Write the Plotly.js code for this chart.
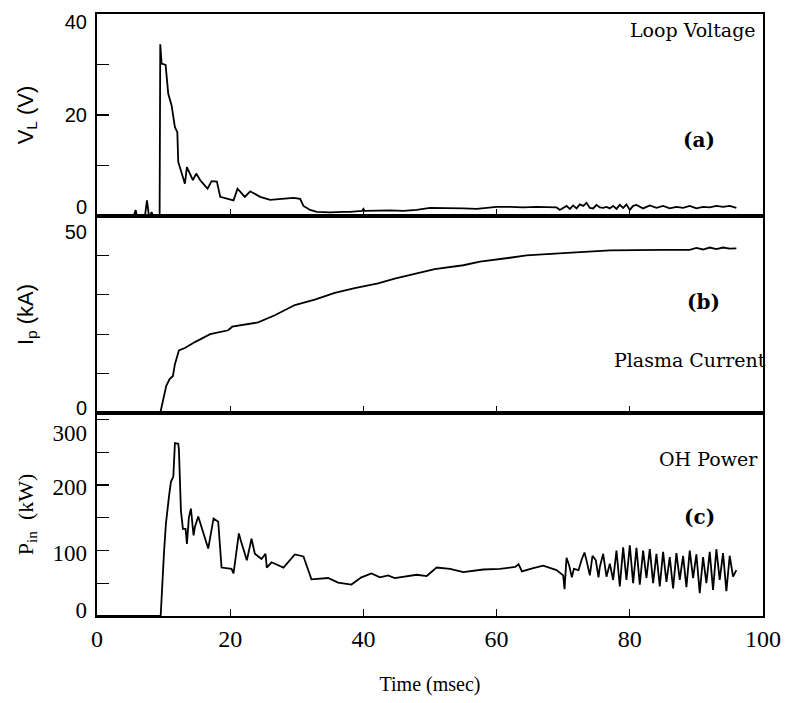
<!DOCTYPE html>
<html>
<head>
<meta charset="utf-8">
<script src="https://cdn.plot.ly/plotly-3.0.1.min.js"></script>
<style>html,body{margin:0;padding:0;background:#fff;}</style>
</head>
<body>
<div id="chart" style="width:795px;height:703px;"></div>
<script>
// ---- Data ----
// (a) Loop voltage, V
const timeVL = [0, 5.5, 5.8, 6.0, 7.2, 7.5, 7.8, 8.0, 8.2, 8.4, 9.4, 9.5, 9.7, 10.3, 10.7, 11.2, 11.7, 12.06, 12.2, 12.7, 13.2, 13.5, 14, 14.4, 14.9, 15.5, 16.6, 17.2, 18, 18.5, 20.5, 21.1, 22.2, 23, 24.5, 26, 29.5, 30.5, 31, 32, 33, 35, 37, 38, 39.8, 40, 40.2, 42, 44, 46, 48, 50, 51, 53, 55, 57, 59, 60, 62, 64, 66, 68, 69, 69.5, 70, 70.5, 71, 71.5, 72, 72.5, 73, 73.5, 74, 74.5, 75, 75.5, 76, 76.5, 77, 77.5, 78, 78.5, 79, 79.5, 80, 80.5, 81, 82, 83, 84, 85, 86, 87, 88, 89, 90, 91, 92, 93, 94, 95, 96];
const loopVoltage = [0, 0, 1.2, 0, 0, 3.1, 0, 0, 0.8, 0, 0, 34, 30.2, 29.9, 24.2, 21.9, 17.6, 16.6, 10.7, 8.7, 6.4, 9.7, 8.4, 7.1, 8.4, 7.1, 5.4, 6.9, 6.8, 3.8, 3.1, 5.4, 3.8, 4.9, 3.8, 3.2, 3.6, 3.4, 2.0, 1.2, 0.8, 0.7, 0.8, 0.8, 1.0, 1.4, 1.0, 1.1, 1.1, 1.0, 1.2, 1.6, 1.6, 1.5, 1.5, 1.4, 1.6, 1.8, 1.8, 1.7, 1.8, 1.8, 1.7, 1.2, 1.6, 2.0, 1.4, 2.1, 1.5, 2.3, 2.0, 2.6, 1.6, 1.5, 2.2, 1.7, 1.6, 1.8, 1.5, 2.0, 1.4, 2.2, 1.6, 2.3, 1.2, 2.0, 2.2, 1.5, 2.1, 1.6, 2.0, 1.5, 1.8, 1.6, 2.0, 1.5, 1.8, 1.7, 2.0, 1.8, 2.0, 1.6];

// (b) Plasma current, kA
const timeIp = [0, 9.5, 10.4, 10.9, 11.4, 11.7, 12.3, 13.2, 14.7, 17, 19.7, 20.3, 24.2, 26.7, 29.7, 32.7, 35.7, 38.7, 42.2, 44.7, 47.7, 50.7, 55, 57.5, 62, 64.5, 70, 77, 85, 89, 90, 91, 92, 93, 94, 95, 96];
const plasmaCurrent = [0, 0, 6.9, 8.6, 9.4, 12.4, 15.9, 16.5, 18, 20, 21, 21.9, 23, 24.8, 27.4, 28.8, 30.5, 31.7, 32.9, 34.1, 35.3, 36.5, 37.5, 38.4, 39.4, 40, 40.6, 41.3, 41.4, 41.4, 41.9, 41.5, 42, 41.6, 42, 41.7, 41.8];

// (c) OH power, kW
const timeP = [0, 9.56, 10.06, 10.35, 10.8, 11.1, 11.46, 11.7, 12.2, 12.3, 12.6, 12.9, 13.3, 13.5, 13.8, 14.1, 14.5, 14.7, 15.2, 15.7, 16.7, 17.5, 18.2, 18.7, 20.2, 20.5, 21.3, 21.6, 22.5, 23.2, 23.7, 24.7, 25.3, 25.5, 26.2, 28, 29.7, 31, 32.2, 34.7, 36.2, 38.2, 39.7, 41.2, 42.5, 43.7, 44.7, 48, 49.5, 51, 53, 55, 58, 60.5, 62.8, 63.3, 63.8, 65.5, 67, 69, 70, 70.2, 70.5, 70.9, 71.3, 71.6, 72.3, 72.8, 73.2, 73.5, 74, 74.4, 74.9, 75.3, 75.5, 76, 76.5, 77, 77.5, 78, 78.5, 79, 79.5, 80, 80.5, 81, 81.5, 82, 82.5, 83, 83.5, 84, 84.5, 85, 85.5, 86, 86.5, 87, 87.5, 88, 88.5, 89, 89.5, 90, 90.5, 91, 91.5, 92, 92.5, 93, 93.5, 94, 94.5, 95, 95.5, 96];
const ohPower = [0, 0, 97, 141, 182, 205, 213, 264, 263, 254, 161, 133, 133, 110, 151, 164, 123, 136, 152, 136, 103, 149, 144, 74, 72, 65, 126, 115, 85, 118, 95, 87, 95, 74, 82, 74, 94, 91, 56, 58, 51, 48, 59, 65, 59, 62, 58, 63, 61, 74, 72, 67, 71, 72, 75, 79, 68, 73, 77, 70, 62, 41, 89, 77, 59, 72, 70, 87, 97, 85, 62, 92, 85, 59, 75, 95, 60, 80, 55, 100, 45, 105, 55, 108, 50, 104, 48, 100, 58, 102, 50, 95, 45, 98, 52, 90, 42, 96, 55, 92, 44, 100, 58, 94, 35, 90, 50, 98, 40, 102, 55, 96, 38, 92, 60, 70];

// ---- Tick definitions ----
const xTicks = [0, 20, 40, 60, 80, 100];
const xTickText = ['0', '20', '40', '60', '80', '100'];
const vlMinor = [0, 10, 20, 30, 40];
const ipMinor = [0, 10, 20, 30, 40, 50];
const pMinor = [0, 50, 100, 150, 200, 250, 300];
// labelled ticks: [value, text, vertical pixel shift of the label]
const vlLabels = [[40, '40', -8], [20, '20', 0], [0, '0', 9]];
const ipLabels = [[50, '50', -16], [0, '0', 5]];
const pLabels = [[300, '300', -13], [200, '200', -2], [100, '100', -2], [0, '0', 6]];

const serif = 'Liberation Serif, Times New Roman, serif';
const sans = 'Liberation Sans, Arial, sans-serif';
const dserif = 'DejaVu Serif, serif';

const lineStyle = {color: '#000', width: 1.8};
const traces = [
  {x: timeVL, y: loopVoltage, xaxis: 'x3', yaxis: 'y3', mode: 'lines', line: lineStyle, name: 'Loop Voltage'},
  {x: timeIp, y: plasmaCurrent, xaxis: 'x2', yaxis: 'y2', mode: 'lines', line: lineStyle, name: 'Plasma Current'},
  {x: timeP, y: ohPower, xaxis: 'x', yaxis: 'y', mode: 'lines', line: lineStyle, name: 'OH Power'}
];

const H = 602;
const dC = [0, 203 / H];
const dB = [203 / H, 400 / H];
const dA = [400 / H, 1];

const xBase = {
  range: [0, 100], tickmode: 'array', tickvals: xTicks, ticktext: xTickText,
  ticks: 'inside', ticklen: 7, tickwidth: 1.3, tickcolor: '#000',
  showline: true, linecolor: '#000', linewidth: 1.8, mirror: true,
  showgrid: false, zeroline: false, domain: [0, 1]
};
function frameAxis(domain, range, minorVals, titleText, titleFont, standoff) {
  return {
    domain: domain, range: range, tickmode: 'array', tickvals: [], ticks: 'inside',
    ticklen: 12, tickwidth: 1.3, tickcolor: '#000',
    minor: {tickmode: 'array', tickvals: minorVals, ticks: 'inside', ticklen: 12, tickwidth: 1.3, tickcolor: '#000', showgrid: false},
    showline: true, linecolor: '#000', linewidth: 1.8, mirror: true,
    showgrid: false, zeroline: false,
    title: {text: titleText, font: titleFont, standoff: standoff}
  };
}
function labelAxis(overlay, domain, range, lab, font) {
  return {
    overlaying: overlay, side: 'left', domain: domain, range: range,
    tickmode: 'array', tickvals: [lab[0]], ticktext: [lab[1]], ticks: '',
    ticklabelstandoff: 9, ticklabelshift: -lab[2],
    showline: false, showgrid: false, zeroline: false, tickfont: font
  };
}

const layout = {
  width: 795, height: 703,
  margin: {l: 97, r: 32, t: 14, b: 87},
  paper_bgcolor: '#fff', plot_bgcolor: 'rgba(0,0,0,0)',
  showlegend: false,
  font: {family: serif, color: '#000', size: 19},
  xaxis: Object.assign({}, xBase, {anchor: 'y',
    tickfont: {family: serif, size: 24},
    title: {text: 'Time (msec)', font: {family: serif, size: 20}, standoff: 26}}),
  xaxis2: Object.assign({}, xBase, {anchor: 'y2', matches: 'x', showticklabels: false}),
  xaxis3: Object.assign({}, xBase, {anchor: 'y3', matches: 'x', showticklabels: false}),
  yaxis: frameAxis(dC, [0, 310], pMinor, 'P<sub>in</sub>  (kW)', {family: serif, size: 22}, 52),
  yaxis2: frameAxis(dB, [0, 50], ipMinor, 'I<sub>p</sub> (kA)', {family: sans, size: 22}, 52),
  yaxis3: frameAxis(dA, [0, 40], vlMinor, 'V<sub>L</sub> (V)', {family: sans, size: 22}, 52),
  annotations: [
    {xref: 'paper', yref: 'paper', x: (758 - 97) / 666, y: (616 - 30) / H, xanchor: 'right', yanchor: 'middle',
     text: 'Loop Voltage', showarrow: false, font: {family: dserif, size: 19}},
    {xref: 'paper', yref: 'paper', x: (699 - 97) / 666, y: (616 - 140) / H, xanchor: 'center', yanchor: 'middle',
     text: '<b>(a)</b>', showarrow: false, font: {family: dserif, size: 20}},
    {xref: 'paper', yref: 'paper', x: (703 - 97) / 666, y: (616 - 302) / H, xanchor: 'center', yanchor: 'middle',
     text: '<b>(b)</b>', showarrow: false, font: {family: dserif, size: 20}},
    {xref: 'paper', yref: 'paper', x: (768 - 97) / 666, y: (616 - 360) / H, xanchor: 'right', yanchor: 'middle',
     text: 'Plasma Current', showarrow: false, font: {family: dserif, size: 19}},
    {xref: 'paper', yref: 'paper', x: (760 - 97) / 666, y: (616 - 459) / H, xanchor: 'right', yanchor: 'middle',
     text: 'OH Power', showarrow: false, font: {family: dserif, size: 19}},
    {xref: 'paper', yref: 'paper', x: (699 - 97) / 666, y: (616 - 517) / H, xanchor: 'center', yanchor: 'middle',
     text: '<b>(c)</b>', showarrow: false, font: {family: dserif, size: 20}}
  ]
};

// label-only overlay axes, one per labelled tick
const groups = [
  {base: 'y3', xa: 'x3', dom: dA, range: [0, 40], labels: vlLabels, font: {family: sans, size: 20}},
  {base: 'y2', xa: 'x2', dom: dB, range: [0, 50], labels: ipLabels, font: {family: sans, size: 20}},
  {base: 'y', xa: 'x', dom: dC, range: [0, 310], labels: pLabels, font: {family: serif, size: 23}}
];
let axisNum = 4;
groups.forEach(g => {
  g.labels.forEach(lab => {
    const key = 'yaxis' + axisNum;
    layout[key] = labelAxis(g.base, g.dom, g.range, lab, g.font);
    traces.push({x: [], y: [], xaxis: g.xa, yaxis: 'y' + axisNum, mode: 'lines', hoverinfo: 'skip', showlegend: false});
    axisNum++;
  });
});

Plotly.newPlot('chart', traces, layout, {staticPlot: true, displayModeBar: false});
</script>
</body>
</html>
